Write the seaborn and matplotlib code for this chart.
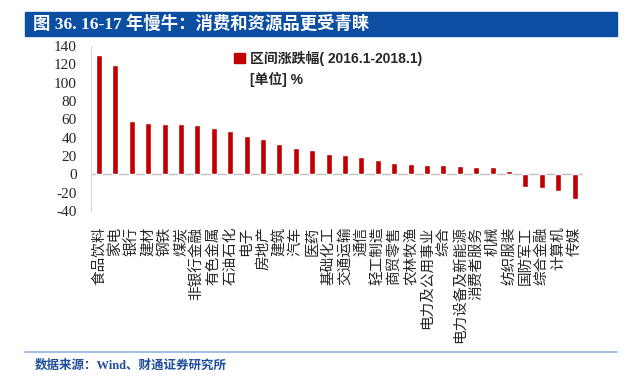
import matplotlib
matplotlib.use('Agg')
import matplotlib.pyplot as plt
from matplotlib.patches import Rectangle, Patch
import seaborn as sns
import pandas as pd

# industries, 2016.1-2018.1 change (%)
industries = ['食品饮料', '家电', '银行', '建材', '钢铁', '煤炭', '非银行金融', '有色金属',
              '石油石化', '电子', '房地产', '建筑', '汽车', '医药', '基础化工', '交通运输',
              '通信', '轻工制造', '商贸零售', '农林牧渔', '电力及公用事业', '综合',
              '电力设备及新能源', '消费者服务', '机械', '纺织服装', '国防军工', '综合金融',
              '计算机', '传媒']
change = [130.4, 118.7, 57.9, 56.0, 55.3, 54.6, 53.8, 50.5, 47.6, 41.8, 38.5, 33.3,
          28.6, 26.7, 22.3, 21.6, 18.7, 15.8, 12.5, 11.7, 10.3, 9.9, 9.5, 8.4, 8.1,
          4.0, -13.2, -15.0, -17.9, -26.7]
yticks = list(range(-40, 141, 20))

title = '图 36. 16-17 年慢牛：消费和资源品更受青睐'
legend_label = '区间涨跌幅( 2016.1-2018.1)'
unit_label = '[单位] %'
source = '数据来源：Wind、财通证券研究所'

RED = '#C00000'
BLUE = '#0B4EA2'

sns.set_style('white')
plt.rcParams['font.family'] = ['Liberation Serif', 'Noto Sans CJK SC']
plt.rcParams['axes.unicode_minus'] = False

df = pd.DataFrame({'industry': industries, 'change': change})

fig = plt.figure(figsize=(6.26, 3.79), dpi=100)
ax = fig.add_axes([0.145, 0.443, 0.786, 0.436])
sns.barplot(data=df, x='industry', y='change', color=RED, width=0.37,
            saturation=1, ax=ax)

ax.set_ylim(-40, 140)
ax.set_xlim(-0.5, len(industries) - 0.5)
ax.set_yticks(yticks)
ax.set_yticklabels([str(v) for v in yticks], fontsize=11, family='Liberation Serif')
ax.tick_params(axis='y', length=0, pad=10)
ax.tick_params(axis='x', length=0, pad=11)
ax.set_xticks(range(len(industries)))
ax.set_xticklabels(industries, rotation=90, fontsize=10.5,
                   family=['Noto Sans CJK SC'], va='top', ha='center')
ax.set_xlabel('')
ax.set_ylabel('')
for s in ['top', 'right', 'bottom']:
    ax.spines[s].set_visible(False)
ax.spines['left'].set_color('#D9D9D9')
ax.axhline(0, color='#BFBFBF', lw=1, zorder=0)

handles = [Patch(facecolor=RED, edgecolor=RED), Patch(facecolor='none', edgecolor='none')]
leg = ax.legend(handles, [legend_label, unit_label], loc='upper left',
                bbox_to_anchor=(0.265, 1.045), frameon=False, handlelength=0.8,
                handleheight=0.8, handletextpad=0.4, labelspacing=0.45,
                prop={'family': ['Liberation Sans', 'Noto Sans CJK SC'],
                      'weight': 'bold', 'size': 10})

# title bar
fig.patches.append(Rectangle((25 / 626, 1 - 36 / 379), 592 / 626, 24 / 379,
                             transform=fig.transFigure, color=BLUE, zorder=0))
fig.text(33 / 626, 1 - 24 / 379, title, color='white', fontsize=12.5,
         fontweight='bold', va='center', ha='left',
         family=['Liberation Serif', 'Noto Sans CJK SC'])

# source line
fig.add_artist(plt.Line2D([25 / 626, 617 / 626], [1 - 352 / 379, 1 - 352 / 379],
                          transform=fig.transFigure, color='#8EB4E3', lw=1.2))
fig.text(35 / 626, 1 - 366 / 379, source, color='#1F4E9A', fontsize=9,
         fontweight='bold', va='center', ha='left',
         family=['Liberation Serif', 'Noto Sans CJK SC'])

fig.savefig('out.png', dpi=100)
